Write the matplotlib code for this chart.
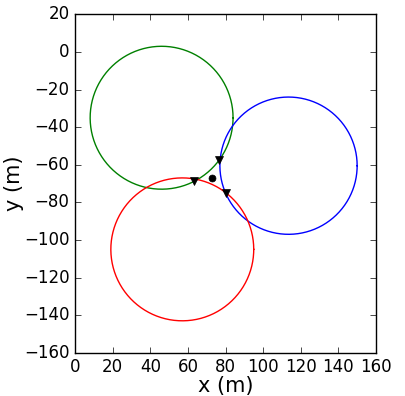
import matplotlib
matplotlib.use("Agg")
import matplotlib.pyplot as plt
import numpy as np

plt.style.use("classic")

# circles: centre x, centre y, radius
circle_x = [46, 113.5, 57]
circle_y = [-35, -60.5, -105]
circle_r = [38, 36.5, 38]
circle_colors = ["g", "b", "r"]

# estimated position
dot_x = [73]
dot_y = [-67]

# intersection points
tri_x = [76.6, 63.3, 80.3]
tri_y = [-57.5, -68.7, -75]

fig = plt.figure(figsize=(4.06, 3.96), dpi=100)
ax = fig.add_axes([0.185, 0.108, 0.741, 0.857])

t = np.linspace(0, 2 * np.pi, 400)
for cx, cy, r, c in zip(circle_x, circle_y, circle_r, circle_colors):
    ax.plot(cx + r * np.cos(t), cy + r * np.sin(t), color=c, lw=1)

ax.plot(dot_x, dot_y, "ko", ms=5)
ax.plot(tri_x, tri_y, "kv", ms=6)

ax.set_xlim(0, 160)
ax.set_ylim(-160, 20)
ax.set_xticks(np.arange(0, 161, 20))
ax.set_yticks(np.arange(-160, 21, 20))
ax.set_aspect("equal")
ax.set_xlabel("x (m)", fontsize=15, labelpad=0)
ax.set_ylabel("y (m)", fontsize=15, labelpad=0)

fig.savefig("out.png", dpi=100)
